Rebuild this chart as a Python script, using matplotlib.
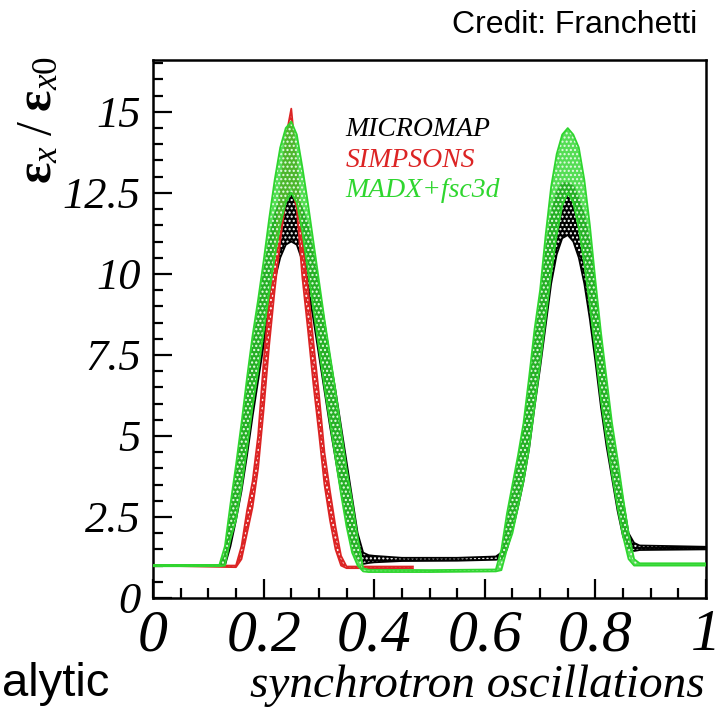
"""Emittance growth vs synchrotron oscillations: MICROMAP / SIMPSONS / MADX+fsc3d."""
import matplotlib

matplotlib.use("Agg")
import matplotlib.pyplot as plt
from matplotlib.ticker import MultipleLocator

plt.rcParams["mathtext.fontset"] = "custom"
plt.rcParams["mathtext.rm"] = "Liberation Serif"
plt.rcParams["mathtext.it"] = "Liberation Serif:italic"
plt.rcParams["mathtext.bf"] = "Liberation Serif:bold"

SERIF = "Liberation Serif"
SANS = "Liberation Sans"

BLACK = "#000000"
RED = "#dc2424"
GREEN = "#2fd62f"

# --- data: band upper / lower envelope per code ---
MICROMAP_X = [0.00, 0.10, 0.12, 0.13, 0.14, 0.15, 0.16, 0.17, 0.18, 0.19, 0.20,
              0.21, 0.22, 0.23, 0.24, 0.25, 0.26, 0.27, 0.28, 0.29, 0.30, 0.31,
              0.32, 0.33, 0.34, 0.35, 0.36, 0.37, 0.38, 0.39, 0.40, 0.45, 0.55,
              0.62, 0.63, 0.64, 0.65, 0.66, 0.67, 0.68, 0.69, 0.70, 0.71, 0.72,
              0.73, 0.74, 0.75, 0.76, 0.77, 0.78, 0.79, 0.80, 0.81, 0.82, 0.83,
              0.84, 0.85, 0.86, 0.87, 0.88, 1.00]
MICROMAP_HI = [1.0, 1.0, 1.0, 1.3, 2.6, 3.9, 5.1, 6.4, 7.7, 8.8, 10.0,
               11.0, 11.8, 12.3, 12.5, 12.5, 12.4, 12.0, 11.5, 10.6, 9.6, 8.5,
               7.4, 6.4, 5.3, 4.2, 3.1, 2.0, 1.4, 1.32, 1.3, 1.24, 1.24,
               1.28, 1.4, 2.3, 3.3, 4.2, 5.2, 6.5, 7.9, 9.1, 10.6, 11.8,
               12.5, 12.8, 12.8, 12.7, 12.3, 11.8, 10.9, 9.5, 8.0, 6.6, 5.2,
               4.1, 3.0, 2.0, 1.7, 1.62, 1.58]
MICROMAP_LO = [1.0, 1.0, 1.0, 1.0, 1.6, 2.4, 3.3, 4.4, 5.6, 6.7, 7.8,
               8.9, 9.8, 10.5, 10.9, 11.0, 10.9, 10.4, 9.6, 8.6, 7.5, 6.4,
               5.3, 4.3, 3.3, 2.4, 1.6, 1.2, 1.05, 1.08, 1.1, 1.14, 1.15,
               1.18, 1.2, 1.5, 2.1, 2.8, 3.6, 4.6, 5.9, 7.1, 8.4, 9.7,
               10.6, 11.1, 11.2, 11.0, 10.5, 9.7, 8.6, 7.3, 5.9, 4.7, 3.7,
               2.7, 1.9, 1.5, 1.45, 1.48, 1.5]

SIMPSONS_X = [0.00, 0.12, 0.15, 0.16, 0.17, 0.18, 0.19, 0.20, 0.21, 0.22, 0.23,
              0.24, 0.25, 0.26, 0.27, 0.28, 0.29, 0.30, 0.31, 0.32, 0.33, 0.34,
              0.35, 0.47]
SIMPSONS_HI = [1.0, 1.0, 1.0, 1.6, 2.7, 3.6, 5.0, 7.3, 9.2, 10.8, 12.5,
               14.2, 15.1, 13.3, 11.0, 9.6, 7.9, 6.3, 4.5, 3.3, 2.2, 1.3,
               0.97, 0.97]
SIMPSONS_LO = [1.0, 0.96, 0.95, 1.2, 2.0, 2.8, 4.0, 5.8, 7.8, 9.5, 11.0,
               12.3, 12.8, 12.0, 9.9, 8.3, 6.6, 5.1, 3.5, 2.4, 1.5, 1.0,
               0.92, 0.92]

MADX_X = [0.00, 0.10, 0.12, 0.13, 0.14, 0.15, 0.16, 0.17, 0.18, 0.19, 0.20,
          0.21, 0.22, 0.23, 0.24, 0.25, 0.26, 0.27, 0.28, 0.29, 0.30, 0.31,
          0.32, 0.33, 0.34, 0.35, 0.36, 0.37, 0.38, 0.39, 0.50, 0.62, 0.63,
          0.64, 0.65, 0.66, 0.67, 0.68, 0.69, 0.70, 0.71, 0.72, 0.73, 0.74,
          0.75, 0.76, 0.77, 0.78, 0.79, 0.80, 0.81, 0.82, 0.83, 0.84, 0.85,
          0.86, 0.87, 0.88, 1.00]
MADX_HI = [1.02, 1.02, 1.02, 1.6, 2.9, 4.1, 5.4, 6.8, 8.1, 9.2, 10.4,
           11.7, 12.9, 13.9, 14.5, 14.7, 14.3, 13.3, 12.2, 11.0, 9.8, 8.6,
           7.5, 6.4, 5.2, 4.0, 3.0, 1.9, 0.92, 0.87, 0.86, 0.88, 1.5,
           2.6, 3.5, 4.4, 5.4, 6.8, 8.3, 9.5, 11.2, 12.7, 13.7, 14.3,
           14.5, 14.3, 13.9, 12.9, 11.5, 9.8, 8.2, 6.8, 5.4, 4.3, 3.1,
           2.0, 1.2, 1.07, 1.07]
MADX_LO = [0.98, 0.98, 0.98, 1.0, 1.8, 2.4, 3.4, 4.6, 5.9, 7.0, 8.2,
           9.4, 10.5, 11.5, 12.2, 12.5, 12.2, 11.3, 10.1, 8.9, 7.7, 6.5,
           5.4, 4.3, 3.2, 2.2, 1.4, 1.0, 0.82, 0.8, 0.8, 0.82, 0.86,
           1.5, 2.0, 2.8, 3.6, 4.6, 5.9, 7.2, 8.6, 10.0, 11.2, 12.1,
           12.5, 12.2, 11.4, 10.3, 9.0, 7.6, 6.1, 4.9, 3.8, 2.8, 1.9,
           1.2, 1.0, 1.0, 1.0]

LEGEND_LABELS = ["MICROMAP", "SIMPSONS", "MADX+fsc3d"]
LEGEND_COLORS = [BLACK, RED, GREEN]

X_TICKS = [0, 0.2, 0.4, 0.6, 0.8, 1]
X_TICKLABELS = ["0", "0.2", "0.4", "0.6", "0.8", "1"]
Y_TICKS = [0, 2.5, 5, 7.5, 10, 12.5, 15]
Y_TICKLABELS = ["0", "2.5", "5", "7.5", "10", "12.5", "15"]


def draw_band(ax, x, hi, lo, color, z, alpha=1.0):
    ax.fill_between(x, lo, hi, facecolor=color, edgecolor="white", hatch="....",
                    linewidth=0, alpha=alpha, zorder=z)
    ax.plot(x, hi, color=color, lw=1.3, zorder=z)
    ax.plot(x, lo, color=color, lw=1.3, zorder=z)


def main():
    fig = plt.figure(figsize=(7.27, 7.07), dpi=100)
    ax = fig.add_axes([0.2105, 0.1542, 0.7606, 0.7609])

    draw_band(ax, MICROMAP_X, MICROMAP_HI, MICROMAP_LO, BLACK, 2)
    draw_band(ax, SIMPSONS_X, SIMPSONS_HI, SIMPSONS_LO, RED, 3)
    draw_band(ax, MADX_X, MADX_HI, MADX_LO, GREEN, 4, alpha=0.82)

    ax.set_xlim(0, 1)
    ax.set_ylim(0, 16.6)
    ax.set_xticks(X_TICKS)
    ax.set_xticklabels(X_TICKLABELS, fontfamily=SERIF, fontstyle="italic", fontsize=43)
    ax.set_yticks(Y_TICKS)
    ax.set_yticklabels(Y_TICKLABELS, fontfamily=SERIF, fontstyle="italic", fontsize=32)
    ax.xaxis.set_minor_locator(MultipleLocator(0.05))
    ax.yaxis.set_minor_locator(MultipleLocator(0.5))
    ax.tick_params(which="both", direction="in", width=1.6, colors="black")
    ax.tick_params(which="major", length=14)
    ax.tick_params(which="minor", length=7.5)
    ax.tick_params(axis="x", which="major", pad=8)
    ax.tick_params(axis="y", which="major", pad=9)
    for sp in ax.spines.values():
        sp.set_linewidth(1.8)

    for i, (lab, col) in enumerate(zip(LEGEND_LABELS, LEGEND_COLORS)):
        ax.text(0.348, 0.870 - i * 0.056, lab, transform=ax.transAxes, color=col,
                fontfamily=SERIF, fontstyle="italic", fontsize=20, va="center",
                ha="left", zorder=6)

    fig.text(37 / 727, 1 - 56 / 707, r"$\mathbf{ε}_x\;/\;\mathbf{ε}_{x0}$",
             rotation=90, ha="center", va="top", fontsize=36)
    fig.text(705 / 727, 1 - 686 / 707, "synchrotron oscillations", fontfamily=SERIF,
             fontstyle="italic", fontsize=34, ha="right", va="center")
    fig.text(2 / 727, 1 - 684 / 707, "alytic", fontfamily=SANS, fontsize=34,
             ha="left", va="center")
    fig.text(697 / 727, 1 - 25 / 707, "Credit: Franchetti", fontfamily=SANS,
             fontsize=23, ha="right", va="center")

    fig.savefig("out.png", dpi=100)


if __name__ == "__main__":
    main()
